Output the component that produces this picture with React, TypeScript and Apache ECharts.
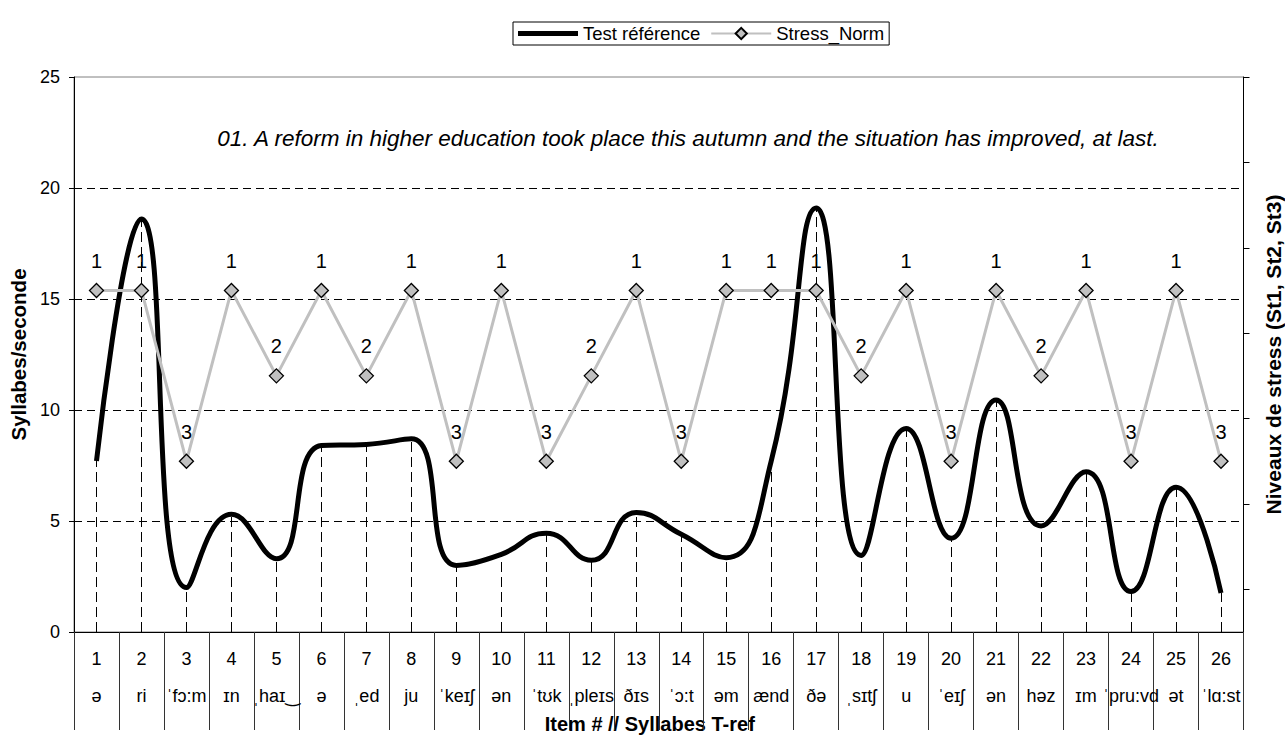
import React, { useEffect, useRef } from "react";
import * as echarts from "echarts";

const categories = ["1","2","3","4","5","6","7","8","9","10","11","12","13","14","15","16","17","18","19","20","21","22","23","24","25","26"];
const syllables = ["ə","ri","ˈfɔ:m","ɪn","ˌhaɪ‿","ə","ˌed","ju","ˈkeɪʃ","ən","ˈtʊk","ˌpleɪs","ðɪs","ˈɔ:t","əm","ænd","ðə","ˌsɪtʃ","u","ˈeɪʃ","ən","həz","ɪm","ˈpru:vd","ət","ˈlɑ:st"];
const testReference = [7.7, 18.6, 2.0, 5.3, 3.3, 8.4, 8.45, 8.7, 3.0, 3.5, 4.45, 3.23, 5.38, 4.4, 3.35, 7.7, 19.1, 3.45, 9.17, 4.22, 10.45, 4.78, 7.22, 1.82, 6.52, 1.76];
const stressNorm = [1, 1, 3, 1, 2, 1, 2, 1, 3, 1, 3, 2, 1, 3, 1, 1, 1, 2, 1, 3, 1, 2, 1, 3, 1, 3];
const rightTicks = [-1.5, -0.5, 0.5, 1.5, 2.5, 3.5, 4.5];

const sentence = "01. A reform in higher education took place this autumn and the situation has improved, at last.";
const FONT = "'Liberation Sans', Arial, 'DejaVu Sans', sans-serif";

export default function App() {
  const ref = useRef<HTMLDivElement>(null);
  useEffect(() => {
    if (!ref.current) return;
    const chart = echarts.init(ref.current, undefined, { renderer: "svg" });
    const dropLines = categories.map((c, i) => [
      { coord: [c, 0] },
      { coord: [c, testReference[i]] },
    ]);
    chart.setOption({
      animation: false,
      textStyle: { fontFamily: FONT, color: "#000" },
      legend: {
        left: 513,
        top: 22,
        padding: [2, 5],
        borderColor: "#000",
        borderWidth: 1,
        itemWidth: 60,
        itemHeight: 14,
        itemGap: 10,
        textStyle: { fontSize: 18.5, color: "#000", fontFamily: FONT },
        data: [
          { name: "Test référence", icon: "path://M0,0H60V5H0Z" },
          { name: "Stress_Norm" },
        ],
      },
      graphic: [
        {
          type: "text",
          x: 688,
          y: 138,
          style: {
            text: sentence,
            align: "center",
            verticalAlign: "middle",
            font: `italic 22.5px ${FONT}`,
            fill: "#000",
          },
        },
      ],
      grid: {
        left: 74,
        right: 41.5,
        top: 77,
        bottom: 104,
        show: true,
        borderColor: "#808080",
        borderWidth: 1,
        containLabel: false,
        outerBoundsMode: "none",
      },
      xAxis: {
        type: "category",
        data: categories,
        boundaryGap: true,
        axisLine: { show: true, lineStyle: { color: "#000", width: 1 } },
        axisTick: { show: true, interval: 0, length: 98, alignWithLabel: false, lineStyle: { color: "#333", width: 1 } },
        axisLabel: {
          interval: 0,
          margin: 8.5,
          color: "#000",
          formatter: (v: string, i: number) => `{n|${v}}\n{p|${syllables[i]}}`,
          rich: {
            n: { fontSize: 18, lineHeight: 37, fontFamily: FONT, color: "#000" },
            p: { fontSize: 18, lineHeight: 37, fontFamily: FONT, color: "#000" },
          },
        },
        name: "Item # // Syllabes T-ref",
        nameLocation: "middle",
        nameGap: 80,
        nameTextStyle: { fontSize: 20, lineHeight: 21, fontWeight: "bold", color: "#000", backgroundColor: "#fff", padding: [1, 24, 0, 6], fontFamily: FONT },
        splitLine: { show: false },
      },
      yAxis: [
        {
          type: "value",
          position: "left",
          min: 0,
          max: 25,
          interval: 5,
          axisLine: { show: true, lineStyle: { color: "#000", width: 1 } },
          axisTick: { show: true, inside: false, length: 5, lineStyle: { color: "#000" } },
          axisLabel: { fontSize: 18, color: "#000", margin: 14, fontFamily: FONT },
          splitLine: { show: true, showMinLine: false, showMaxLine: false, lineStyle: { color: "#000", type: [8, 5], width: 1 } },
          name: "Syllabes/seconde",
          nameLocation: "middle",
          nameGap: 44,
          nameTextStyle: { fontSize: 20.5, fontWeight: "bold", color: "#000", fontFamily: FONT },
        },
        {
          type: "value",
          position: "right",
          inverse: true,
          min: -1.5,
          max: 5,
          axisLine: { show: true, lineStyle: { color: "#000", width: 1 } },
          axisTick: { show: true, inside: false, length: 6, customValues: rightTicks, lineStyle: { color: "#000" } },
          axisLabel: { show: false },
          splitLine: { show: false },
          name: "Niveaux de stress (St1, St2, St3)",
          nameLocation: "middle",
          nameGap: 19,
          nameTextStyle: { fontSize: 21, fontWeight: "bold", color: "#000", fontFamily: FONT },
        },
      ],
      series: [
        {
          name: "Test référence",
          type: "line",
          yAxisIndex: 0,
          data: testReference,
          smooth: 0.5,
          symbol: "none",
          lineStyle: { color: "#000", width: 5 },
          itemStyle: { color: "#000" },
          z: 3,
          markLine: {
            silent: true,
            symbol: ["none", "none"],
            label: { show: false },
            lineStyle: { color: "#000", type: [10, 5], width: 1 },
            emphasis: { disabled: true },
            data: dropLines,
            z: 1,
          },
        },
        {
          name: "Stress_Norm",
          type: "line",
          yAxisIndex: 1,
          data: stressNorm,
          symbol: "diamond",
          symbolSize: 14,
          lineStyle: { color: "#c0c0c0", width: 3 },
          itemStyle: { color: "#c0c0c0", borderColor: "#000", borderWidth: 1.3 },
          label: { show: true, position: "top", distance: 12, fontSize: 20, color: "#000", fontFamily: FONT },
          z: 10,
        },
      ],
    });
    return () => chart.dispose();
  }, []);
  return <div ref={ref} style={{ position: "fixed", left: 0, top: 0, width: 1285, height: 736, background: "#fff" }} />;
}
